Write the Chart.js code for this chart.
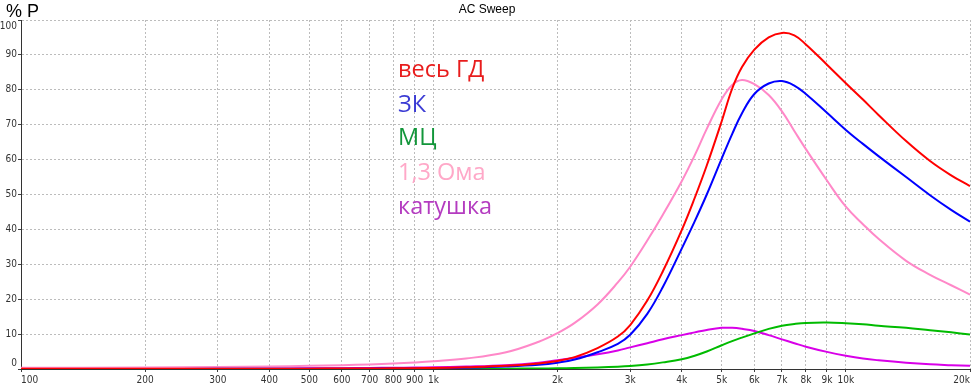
<!DOCTYPE html>
<html><head><meta charset="utf-8">
<script src="https://cdn.jsdelivr.net/npm/chart.js@4"></script>
<style>html,body{margin:0;padding:0;background:#fff;overflow:hidden}#wrap{position:relative;width:974px;height:388px}</style>
</head><body><div id="wrap"><canvas id="c" width="974" height="388"></canvas></div>
<script>
const chartTitle = 'AC Sweep';
const yAxisTitle = '% P';
const freqs = [100,200,300,400,500,600,700,800,900,1000,1200,1500,1800,2000,2200,2500,2800,3000,3300,3600,4000,4300,4600,5000,5300,5600,6000,6500,7000,7500,8000,9000,10000,11000,12000,14000,16000,18000,20000];
const seriesNames = ['весь ГД','ЗК','МЦ','1,3 Ома','катушка'];
const fullDriver = [0.05,0.05,0.05,0.08,0.1,0.12,0.15,0.2,0.25,0.3,0.5,0.9,1.6,2.3,3.4,6.0,9.3,12.6,19.6,28,39.8,49,58.3,71,80.3,86.5,91.5,95,96.3,95.6,93,87.2,81.9,77.2,72.8,65.3,59.6,55.5,52.4];
const zk = [0.03,0.03,0.04,0.05,0.06,0.08,0.1,0.12,0.15,0.2,0.35,0.7,1.2,1.8,2.7,4.8,7.2,9.8,15.8,23.5,34.5,42.3,50,60.3,67.3,73.3,78.8,81.8,82.5,81.2,78.8,73.4,68.5,64.5,61,55,49.8,45.6,42.2];
const mc = [0,0,0,0,0,0,0,0,0,0.02,0.04,0.08,0.15,0.2,0.3,0.45,0.65,0.85,1.3,1.9,2.8,3.8,5.0,6.8,8.0,9.0,10.2,11.5,12.4,12.9,13.2,13.3,13.1,12.8,12.4,11.8,11.1,10.5,9.9];
const ohm13 = [0.35,0.45,0.6,0.75,0.9,1.1,1.3,1.55,1.85,2.2,3.0,4.8,7.8,10.3,13.2,18.5,24.8,29.3,36.8,44.2,53.8,61.2,68.8,77.3,81.4,82.8,81.6,78.5,73.8,68.2,63,54,46.5,41.5,37.3,31,27,24,21.3];
const coil = [0.02,0.05,0.1,0.15,0.2,0.25,0.3,0.35,0.4,0.5,0.7,1.1,1.8,2.5,3.2,4.2,5.3,6.2,7.4,8.5,9.7,10.5,11.2,11.8,11.8,11.5,10.9,9.7,8.5,7.4,6.4,4.9,3.8,3.0,2.5,1.8,1.35,1.1,0.9];
const xTickValues = [100,200,300,400,500,600,700,800,900,1000,2000,3000,4000,5000,6000,7000,8000,9000,10000,20000];
const xTickLabels = ['100','200','300','400','500','600','700','800','900','1k','2k','3k','4k','5k','6k','7k','8k','9k','10k','20k'];
const yTickValues = [0,10,20,30,40,50,60,70,80,90,100];

const allSeries = [fullDriver, zk, mc, ohm13, coil];
const lineColors = ['#ff0000','#0000ff','#00bb00','#ff88c8','#d800e8'];
const labelColors = ['#e81c1c','#3c3cd4','#12963a','#ffa8c8','#b43cc0'];

const tickFont = {family:"'Liberation Sans Narrow','DejaVu Sans Condensed','Liberation Sans',sans-serif", size:10};

const annot = {
  id:'annot',
  afterDraw(chart){
    const ctx = chart.ctx; ctx.save();
    ctx.fillStyle = '#000'; ctx.textBaseline = 'alphabetic';
    ctx.font = '12px "Liberation Sans", Arial, sans-serif'; ctx.textAlign = 'center';
    ctx.fillText(chartTitle, 487, 13);
    ctx.font = '18px "Liberation Sans", Arial, sans-serif'; ctx.textAlign = 'left';
    ctx.fillText(yAxisTitle, 6, 17);
    ctx.font = '23.5px "Open Sans", "Noto Sans", sans-serif';
    const base = [77, 112, 145, 180, 214];
    seriesNames.forEach((n,i)=>{ ctx.fillStyle = labelColors[i]; ctx.fillText(n, 398, base[i]); });
    ctx.restore();
  }
};

function patchScale(s, fn){
  if (!s || s._edgePatched) return;
  const orig = s._computeLabelItems;
  s._computeLabelItems = function(ca){ const items = orig.call(this, ca); try { fn(items); } catch(e){} return items; };
  s._edgePatched = true; s._labelItems = null;
}
const edgeLabels = {
  id:'edgeLabels',
  beforeDraw(chart){
    patchScale(chart.scales.x, items => {
      if (!items.length) return;
      items[0].options.textAlign = 'left';
      items[items.length-1].options.textAlign = 'right';
    });
    patchScale(chart.scales.y, items => {
      if (!items.length) return;
      const f = items[0].options.translation; items[0].options.translation = [f[0], f[1]-6];
      const l = items[items.length-1].options.translation; items[items.length-1].options.translation = [l[0], l[1]+6];
    });
  }
};

new Chart(document.getElementById('c'), {
  type:'line',
  data:{
    datasets: allSeries.map((vals,i) => ({
      label: seriesNames[i],
      data: freqs.map((f,k)=>({x:f, y:vals[k]})),
      borderColor: lineColors[i],
      backgroundColor: lineColors[i],
      borderWidth: 2,
      pointRadius: 0,
      fill: false,
      tension: 0.4
    }))
  },
  options:{
    responsive:false, animation:false, devicePixelRatio:1,
    layout:{padding:{top:20,right:4,left:0,bottom:0}},
    plugins:{legend:{display:false}, title:{display:false}, tooltip:{enabled:false}},
    scales:{
      x:{
        type:'logarithmic', min:100, max:20000, position:'bottom',
        afterBuildTicks: s => { s.ticks = xTickValues.map(v => ({value:v})); },
        afterFit: s => { s.height = 19; s.paddingLeft = 0; s.paddingRight = 0; },
        ticks:{ autoSkip:false, maxRotation:0, minRotation:0, font:tickFont, color:'#333', padding:2,
          callback: v => { const i = xTickValues.indexOf(v); return i >= 0 ? xTickLabels[i] : ''; } },
        grid:{ color:'#bcbcbc', lineWidth:1, tickColor:'#404040', tickLength:3 },
        border:{ display:true, color:'#333', width:1, dash:[2,2] }
      },
      y:{
        min:0, max:100,
        afterBuildTicks: s => { s.ticks = yTickValues.map(v => ({value:v})); },
        afterFit: s => { s.width = 21; s.paddingTop = 0; s.paddingBottom = 0; },
        ticks:{ font:tickFont, color:'#333', padding:1 },
        grid:{ color:'#bcbcbc', lineWidth:1, tickColor:'#404040', tickLength:3 },
        border:{ display:true, color:'#333', width:1, dash:[2,2] }
      }
    }
  },
  plugins:[annot, edgeLabels]
});
</script>
</body></html>
